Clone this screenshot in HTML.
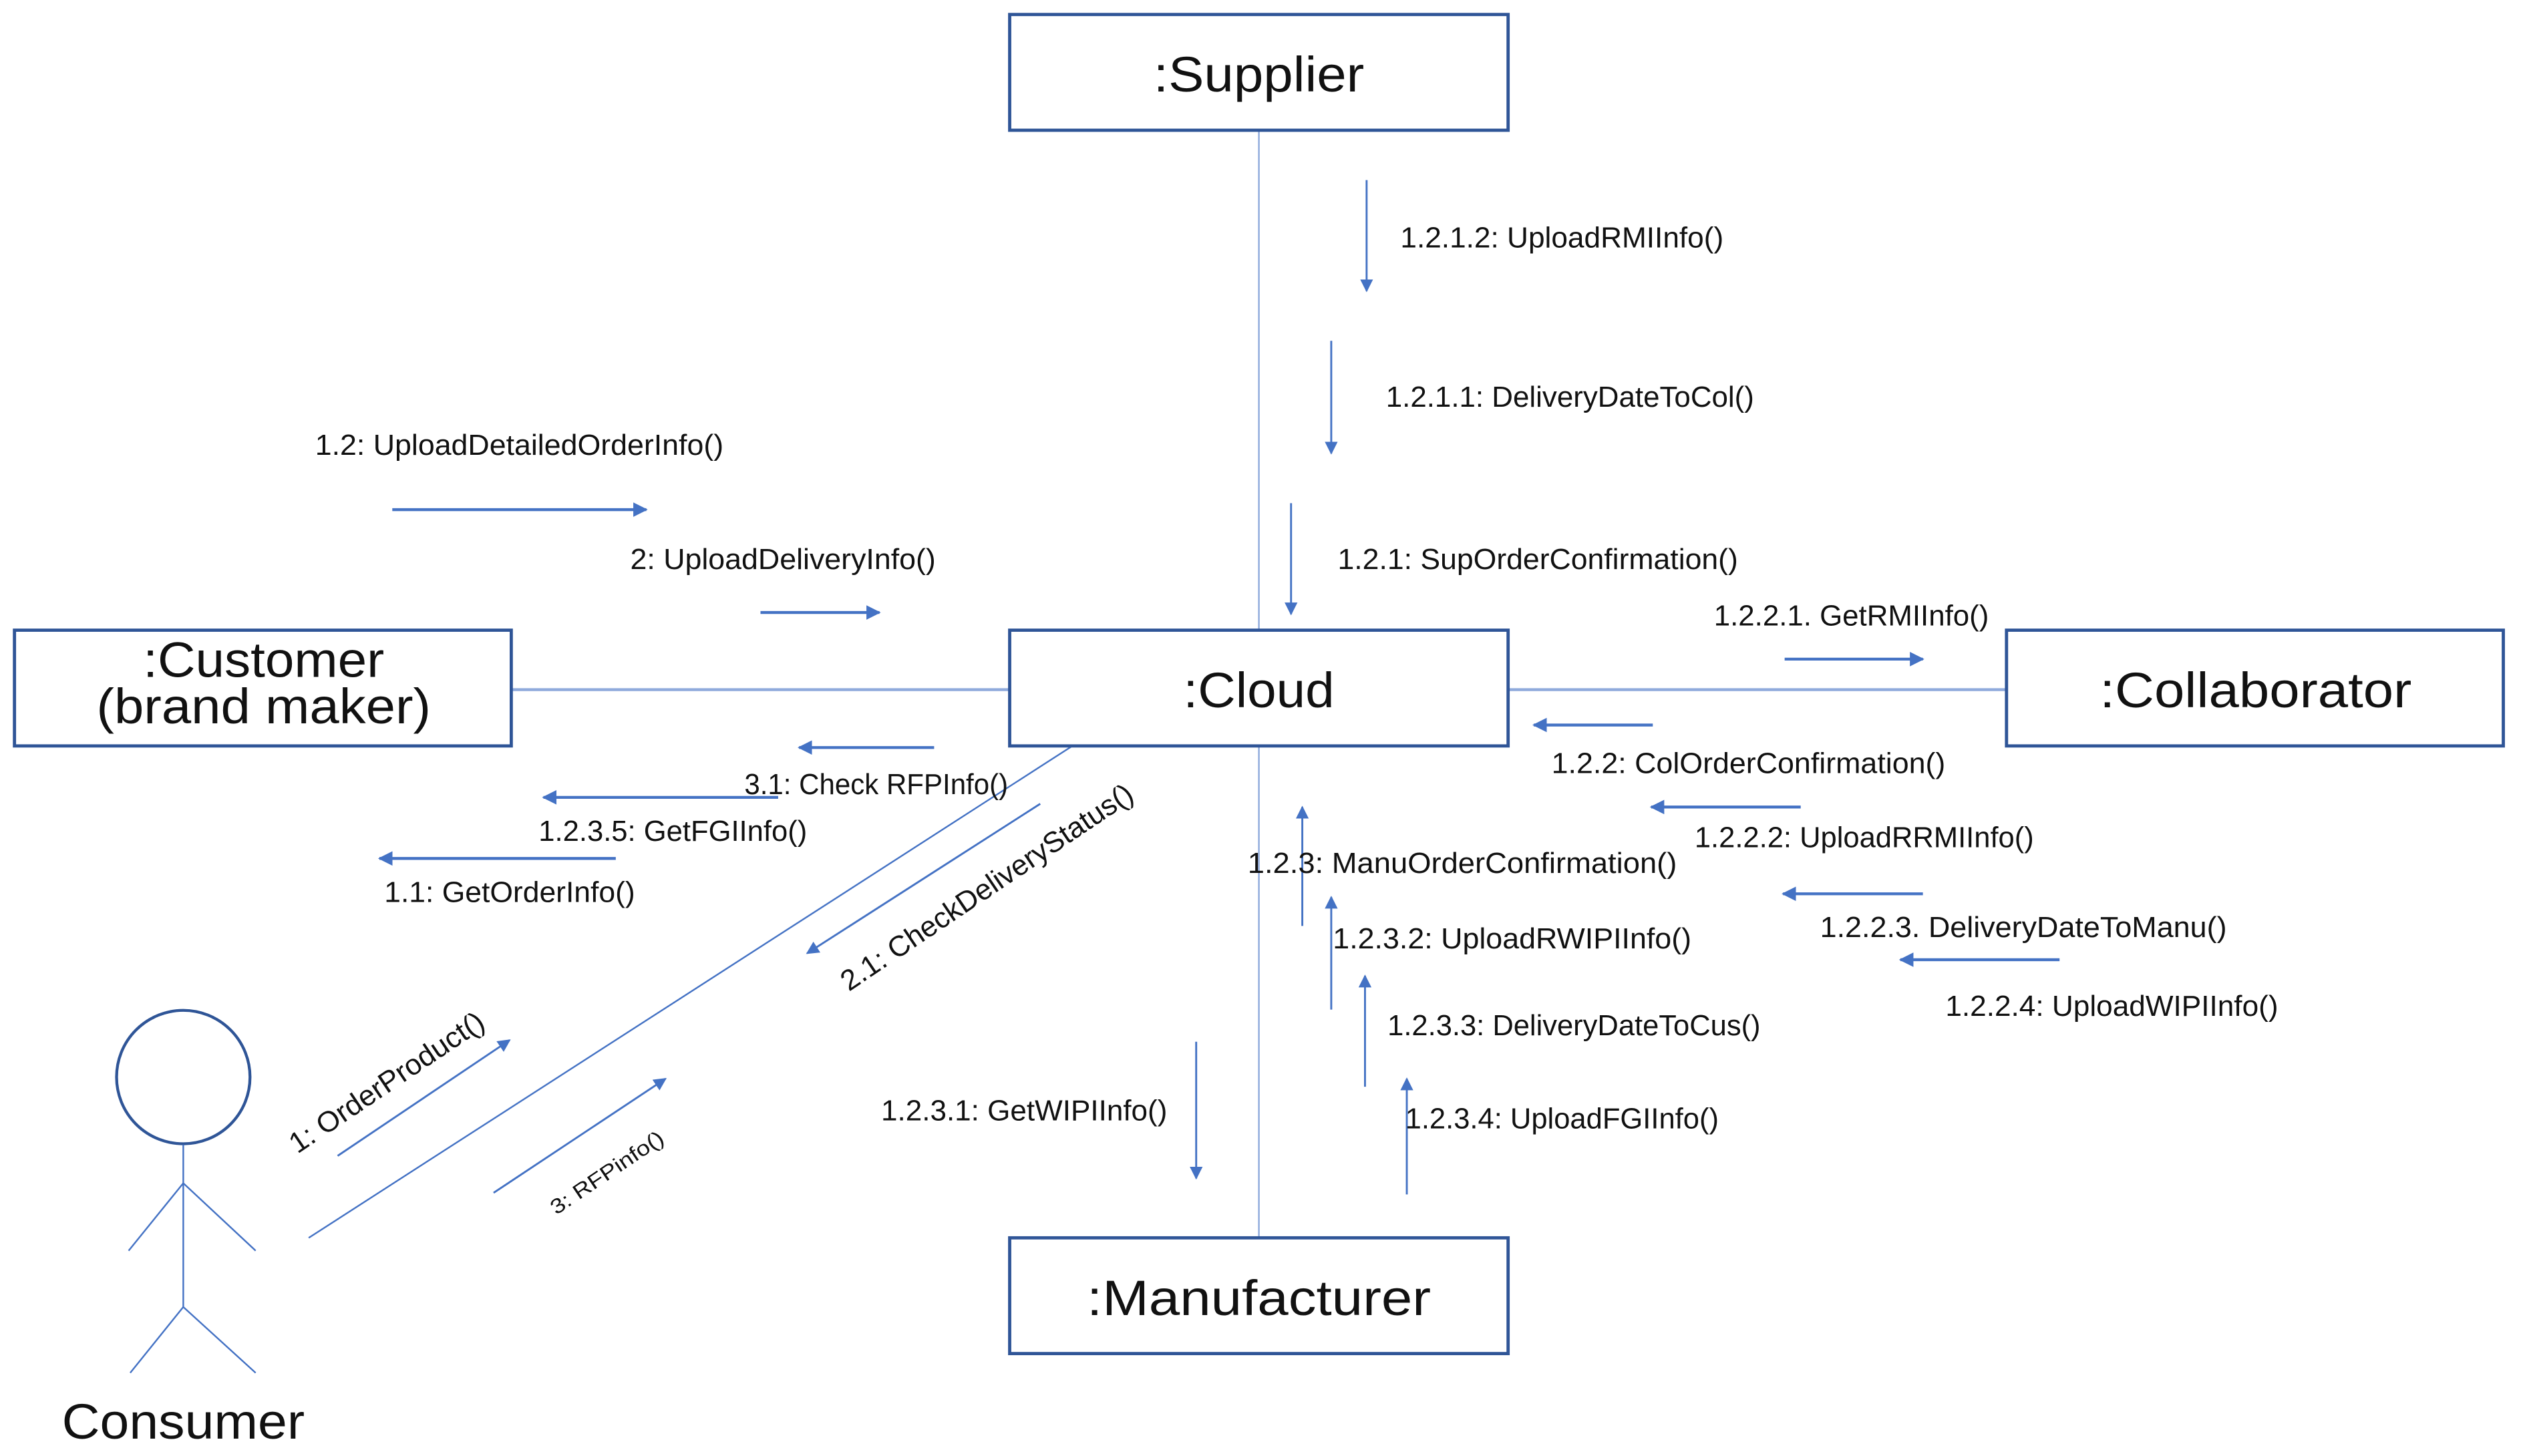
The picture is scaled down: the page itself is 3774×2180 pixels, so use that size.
<!DOCTYPE html>
<html><head><meta charset="utf-8"><style>
html,body{margin:0;padding:0;background:#fff;}
svg{display:block;}
text{font-family:"Liberation Sans",sans-serif;fill:#111;}
.l{font-size:18px;}
.b{font-size:31px;text-anchor:middle;}
</style></head><body>
<svg width="3774" height="2180" viewBox="0 0 1568 905.7" xmlns="http://www.w3.org/2000/svg">
<defs>
<marker id="a" viewBox="0 0 10 10" refX="9" refY="5" markerWidth="8" markerHeight="9" orient="auto" markerUnits="userSpaceOnUse">
<path d="M0,0 L10,5 L0,10 z" fill="#4472C4"/></marker>
<marker id="s" viewBox="0 0 10 10" refX="9" refY="5" markerWidth="9" markerHeight="10" orient="auto" markerUnits="userSpaceOnUse">
<path d="M0,0 L10,5 L0,10 z" fill="#4472C4"/></marker>
</defs>
<g stroke="#8FAADC" stroke-width="1" fill="none">
<line x1="783" y1="81" x2="783" y2="392"/>
<line x1="783" y1="464" x2="783" y2="770"/>
</g>
<g stroke="#8FAADC" stroke-width="1.8" fill="none">
<line x1="318" y1="429" x2="628" y2="429"/>
<line x1="938" y1="429" x2="1248" y2="429"/>
</g>
<g stroke="#4472C4" stroke-width="1" fill="none">
<line x1="192" y1="770" x2="667" y2="464"/>
<circle cx="114" cy="670" r="41.5" stroke="#2F5597" stroke-width="1.8"/>
<line x1="114" y1="712" x2="114" y2="813"/>
<line x1="114" y1="736" x2="80" y2="778"/>
<line x1="114" y1="736" x2="159" y2="778"/>
<line x1="114" y1="813" x2="81" y2="854"/>
<line x1="114" y1="813" x2="159" y2="854"/>
</g>
<g stroke="#2F5597" stroke-width="2" fill="#fff">
<rect x="628" y="9" width="310" height="72"/>
<rect x="628" y="392" width="310" height="72"/>
<rect x="9" y="392" width="309" height="72"/>
<rect x="1248" y="392" width="309" height="72"/>
<rect x="628" y="770" width="310" height="72"/>
</g>
<text class="b" x="783" y="57" textLength="131" lengthAdjust="spacingAndGlyphs">:Supplier</text>
<text class="b" x="783" y="440" textLength="94" lengthAdjust="spacingAndGlyphs">:Cloud</text>
<text class="b" x="164" y="421" textLength="150" lengthAdjust="spacingAndGlyphs">:Customer</text>
<text class="b" x="164" y="450" textLength="208" lengthAdjust="spacingAndGlyphs">(brand maker)</text>
<text class="b" x="1403" y="440" textLength="194" lengthAdjust="spacingAndGlyphs">:Collaborator</text>
<text class="b" x="783" y="818" textLength="214" lengthAdjust="spacingAndGlyphs">:Manufacturer</text>
<text class="b" x="114" y="895" textLength="151" lengthAdjust="spacingAndGlyphs">Consumer</text>

<g stroke="#4472C4" stroke-width="1.2" fill="none" marker-end="url(#a)">
<line x1="850" y1="112" x2="850" y2="181"/>
<line x1="828" y1="212" x2="828" y2="282"/>
<line x1="803" y1="313" x2="803" y2="382"/>
<line x1="810" y1="576" x2="810" y2="502"/>
<line x1="828" y1="628" x2="828" y2="558"/>
<line x1="849" y1="676" x2="849" y2="607"/>
<line x1="875" y1="743" x2="875" y2="671"/>
<line x1="744" y1="648" x2="744" y2="733"/>
<line x1="647" y1="500" x2="502" y2="593"/>
<line x1="210" y1="719" x2="317" y2="647"/>
<line x1="307" y1="742" x2="414" y2="671"/>
</g>
<g stroke="#4472C4" stroke-width="1.8" fill="none" marker-end="url(#s)">
<line x1="244" y1="317" x2="402" y2="317"/>
<line x1="473" y1="381" x2="547" y2="381"/>
<line x1="1110" y1="410" x2="1196" y2="410"/>
<line x1="1028" y1="451" x2="954" y2="451"/>
<line x1="1120" y1="502" x2="1027" y2="502"/>
<line x1="1196" y1="556" x2="1109" y2="556"/>
<line x1="1281" y1="597" x2="1182" y2="597"/>
<line x1="581" y1="465" x2="497" y2="465"/>
<line x1="484" y1="496" x2="338" y2="496"/>
<line x1="383" y1="534" x2="236" y2="534"/>
</g>

<g lengthAdjust="spacingAndGlyphs">
<text class="l" x="871" y="154" textLength="201" lengthAdjust="spacingAndGlyphs">1.2.1.2: UploadRMIInfo()</text>
<text class="l" x="862" y="253" textLength="229" lengthAdjust="spacingAndGlyphs">1.2.1.1: DeliveryDateToCol()</text>
<text class="l" x="832" y="354" textLength="249" lengthAdjust="spacingAndGlyphs">1.2.1: SupOrderConfirmation()</text>
<text class="l" x="196" y="283" textLength="254" lengthAdjust="spacingAndGlyphs">1.2: UploadDetailedOrderInfo()</text>
<text class="l" x="392" y="354" textLength="190" lengthAdjust="spacingAndGlyphs">2: UploadDeliveryInfo()</text>
<text class="l" x="1066" y="389" textLength="171" lengthAdjust="spacingAndGlyphs">1.2.2.1. GetRMIInfo()</text>
<text class="l" x="965" y="481" textLength="245" lengthAdjust="spacingAndGlyphs">1.2.2: ColOrderConfirmation()</text>
<text class="l" x="1054" y="527" textLength="211" lengthAdjust="spacingAndGlyphs">1.2.2.2: UploadRRMIInfo()</text>
<text class="l" x="1132" y="583" textLength="253" lengthAdjust="spacingAndGlyphs">1.2.2.3. DeliveryDateToManu()</text>
<text class="l" x="1210" y="632" textLength="207" lengthAdjust="spacingAndGlyphs">1.2.2.4: UploadWIPIInfo()</text>
<text class="l" x="463" y="494" textLength="164" lengthAdjust="spacingAndGlyphs">3.1: Check RFPInfo()</text>
<text class="l" x="335" y="523" textLength="167" lengthAdjust="spacingAndGlyphs">1.2.3.5: GetFGIInfo()</text>
<text class="l" x="239" y="561" textLength="156" lengthAdjust="spacingAndGlyphs">1.1: GetOrderInfo()</text>
<text class="l" x="776" y="543" textLength="267" lengthAdjust="spacingAndGlyphs">1.2.3: ManuOrderConfirmation()</text>
<text class="l" x="829" y="590" textLength="223" lengthAdjust="spacingAndGlyphs">1.2.3.2: UploadRWIPIInfo()</text>
<text class="l" x="863" y="644" textLength="232" lengthAdjust="spacingAndGlyphs">1.2.3.3: DeliveryDateToCus()</text>
<text class="l" x="874" y="702" textLength="195" lengthAdjust="spacingAndGlyphs">1.2.3.4: UploadFGIInfo()</text>
<text class="l" x="548" y="697" textLength="178" lengthAdjust="spacingAndGlyphs">1.2.3.1: GetWIPIInfo()</text>
<text class="l" transform="translate(528,617) rotate(-34)" textLength="215" lengthAdjust="spacingAndGlyphs">2.1: CheckDeliveryStatus()</text>
<text class="l" transform="translate(185,718) rotate(-34)" textLength="142" lengthAdjust="spacingAndGlyphs">1: OrderProduct()</text>
<text transform="translate(346,756) rotate(-34)" style="font-size:13px" textLength="82" lengthAdjust="spacingAndGlyphs">3: RFPinfo()</text>
</g>
</svg>
</body></html>
